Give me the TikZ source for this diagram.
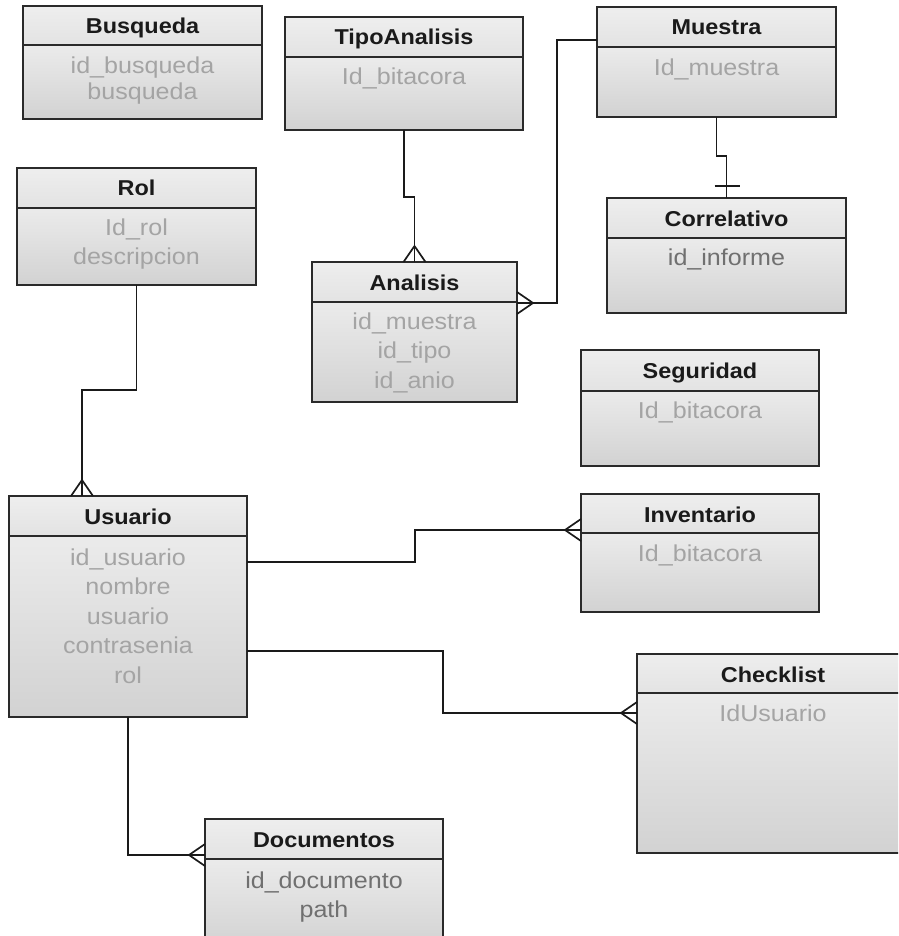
\documentclass[tikz,border=0pt]{standalone}
\usepackage{fontspec}
\setmainfont{Liberation Sans}[FakeStretch=1.09]
\usetikzlibrary{calc}

\definecolor{boxline}{HTML}{2A2A2A}
\definecolor{linkcol}{HTML}{1A1A1A}
\definecolor{titletext}{HTML}{1A1A1A}
\definecolor{attrlightcol}{HTML}{A4A4A4}
\definecolor{attrdarkcol}{HTML}{707070}
\definecolor{hdtop}{HTML}{EEEEEE}
\definecolor{hdbot}{HTML}{E3E3E3}
\definecolor{bdtop}{HTML}{EBEBEB}
\definecolor{bdbot}{HTML}{D2D2D2}

\tikzset{
  box/.style={draw=boxline, line width=1.8pt, rectangle, inner sep=0pt,
              outer sep=0pt, anchor=north west},
  rule/.style={draw=boxline, line width=1.8pt},
  title/.style={anchor=base, inner sep=0pt, text=titletext,
                font=\fontsize{21.5}{26}\selectfont\bfseries},
  attr/.style={anchor=base, inner sep=0pt, text=attrlightcol,
               font=\fontsize{23}{28}\selectfont},
  attrdark/.style={attr, text=attrdarkcol},
  link/.style={draw=linkcol, line width=1.7pt},
}

% entity table: [extra width to the right], name, left x, top y (downwards),
% width used for centring the texts, height, header height, title
\newcommand{\entity}[8][0]{%
  \shade[top color=hdtop, bottom color=hdbot] (#3,-#4) rectangle ++(#5+#1,-#7);
  \shade[top color=bdtop, bottom color=bdbot] (#3,-#4-#7) rectangle ++(#5+#1,-#6+#7);
  \node[box, minimum width=#5pt+#1pt, minimum height=#6pt] (#2) at (#3,-#4) {};
  \coordinate (#2-top) at ($(#2.north west)+(#5/2,0)$);
  \draw[rule] ($(#2.north west)+(0,-#7)$) -- ($(#2.north east)+(0,-#7)$);
  \node[title] (#2-title) at ($(#2-top)+(0,-28)$) {#8};
}

% attribute lines: table name, style, first baseline y, line spacing, list
\newcommand{\attrs}[5]{%
  \foreach \t [count=\i] in {#5} {
    \pgfmathsetmacro\ay{-#3-(\i-1)*#4}
    \node[#2] (#1-a\i) at (#1-top |- 0,\ay) {\t};
  }
}

% crow's foot at a point, #2 = direction of travel into the table
\newcommand{\crowfoot}[2]{%
  \draw[link] ($(#1)+(#2+180:16)$) -- ($(#1)+(#2+90:11)$)
              ($(#1)+(#2+180:16)$) -- ($(#1)+(#2-90:11)$);
}

\begin{document}
\begin{tikzpicture}[x=1pt, y=1pt]
  \useasboundingbox (0,0) rectangle (898,-936);
  \clip (0,0) rectangle (898,-936);

  % tables
  \entity{busqueda}{23}{6}{239}{113}{39}{Busqueda}
  \attrs{busqueda}{attr}{74}{26}{id\_busqueda, busqueda}

  \entity{tipo}{285}{17}{238}{113}{40}{TipoAnalisis}
  \attrs{tipo}{attr}{85}{29.5}{Id\_bitacora}

  \entity{muestra}{597}{7}{239}{110}{40}{Muestra}
  \attrs{muestra}{attr}{76}{29.5}{Id\_muestra}

  \entity{correlativo}{607}{198}{239}{115}{40}{Correlativo}
  \attrs{correlativo}{attrdark}{265}{29.5}{id\_informe}

  \entity{rol}{17}{168}{239}{117}{40}{Rol}
  \attrs{rol}{attr}{235}{29.5}{Id\_rol, descripcion}

  \entity{analisis}{312}{262}{205}{140}{40}{Analisis}
  \attrs{analisis}{attr}{329}{29.5}{id\_muestra, id\_tipo, id\_anio}

  \entity{seguridad}{581}{350}{238}{116}{41}{Seguridad}
  \attrs{seguridad}{attr}{418}{29.5}{Id\_bitacora}

  \entity{usuario}{9}{496}{238}{221}{40}{Usuario}
  \attrs{usuario}{attr}{565}{29.5}{id\_usuario, nombre, usuario, contrasenia, rol}

  \entity{inventario}{581}{494}{238}{118}{39}{Inventario}
  \attrs{inventario}{attr}{561}{29.5}{Id\_bitacora}

  \entity[40]{checklist}{637}{654}{272}{199}{39}{Checklist}
  \attrs{checklist}{attr}{721}{29.5}{IdUsuario}

  \entity{documentos}{205}{819}{238}{130}{40}{Documentos}
  \attrs{documentos}{attrdark}{888}{29.5}{id\_documento, path}

  % connector end points that are off the table centres
  \coordinate (muestraOut)    at ($(muestra.north west)+(0,-33)$);
  \coordinate (analisisIn)    at ($(analisis.north east)+(0,-41)$);
  \coordinate (rolIn)         at ($(usuario.north west)+(73,0)$);
  \coordinate (usrToInv)      at ($(usuario.north east)+(0,-66)$);
  \coordinate (inventarioIn)  at ($(inventario.north west)+(0,-36)$);
  \coordinate (usrToCheck)    at ($(usuario.north east)+(0,-155)$);
  \coordinate (checklistIn)   at ($(checklist.north west)+(0,-59)$);
  \coordinate (documentosIn)  at ($(documentos.north west)+(0,-36)$);

  % relationships
  \draw[link] (tipo.south) -- ++(0,-67) -| (analisis.north);
  \crowfoot{analisis.north}{270}

  \draw[link] (muestraOut) -| ($(analisisIn)+(40,0)$) -- (analisisIn);
  \crowfoot{analisisIn}{180}

  \draw[link] (muestra.south) -- ++(0,-39) -| (correlativo.north);
  \draw[link] ($(correlativo.north)+(-12,12)$) -- ($(correlativo.north)+(13,12)$);

  \draw[link] (rol.south) -- ++(0,-105) -| (rolIn);
  \crowfoot{rolIn}{270}

  \draw[link] (usrToInv) -- ++(168,0) |- (inventarioIn);
  \crowfoot{inventarioIn}{0}

  \draw[link] (usrToCheck) -- ++(196,0) |- (checklistIn);
  \crowfoot{checklistIn}{0}

  \draw[link] (usuario.south) |- (documentosIn);
  \crowfoot{documentosIn}{0}
\end{tikzpicture}
\end{document}
